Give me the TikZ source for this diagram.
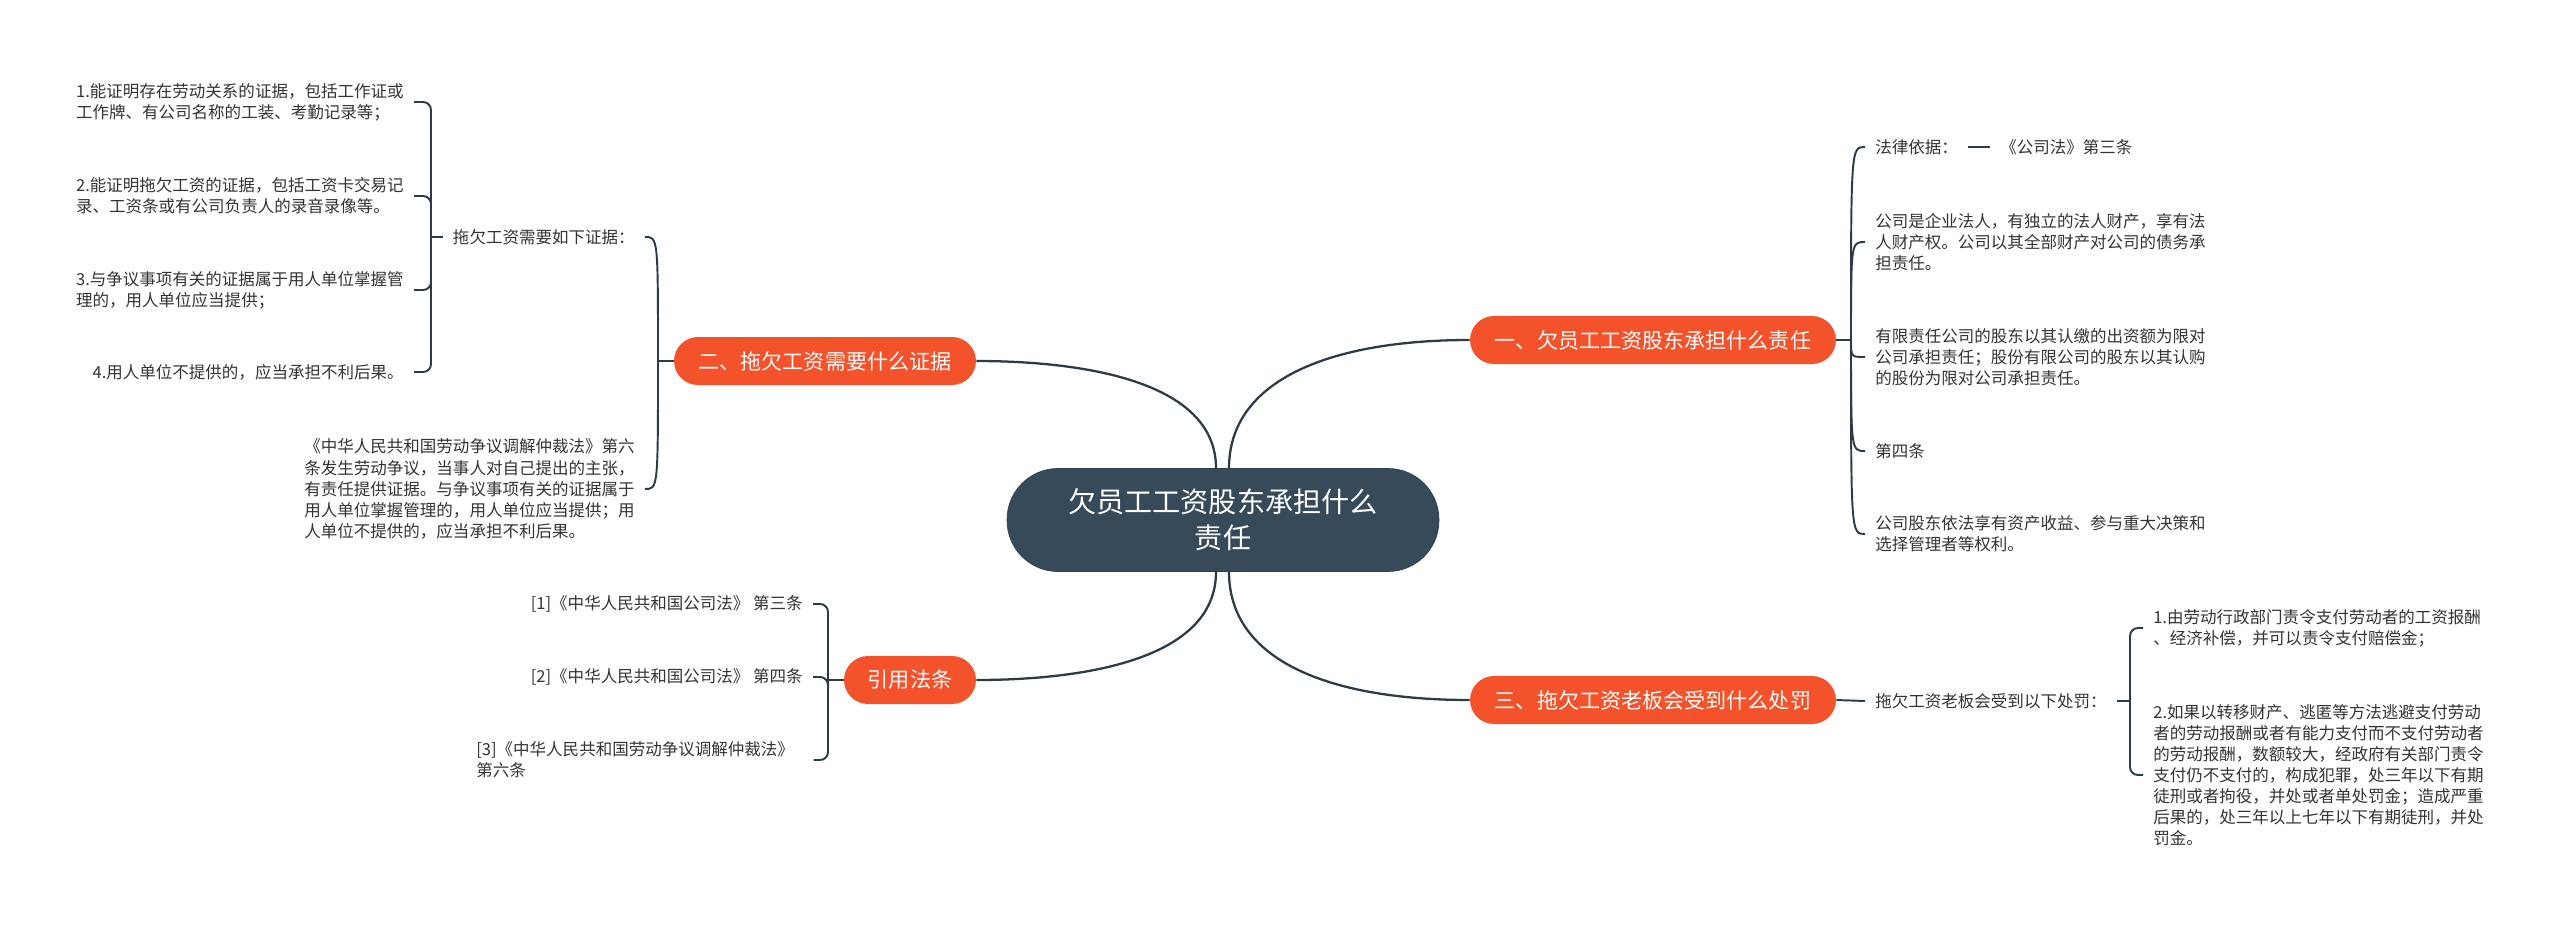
\documentclass[tikz,border=0pt]{standalone}
\usepackage{fontspec}
\setmainfont{Noto Sans CJK SC}
\usepackage{tikz}
\usetikzlibrary{positioning}
\definecolor{topicred}{HTML}{F4522B}
\definecolor{rootblue}{HTML}{374A5A}
\definecolor{linkgray}{HTML}{2C3B49}
\definecolor{leaftext}{HTML}{333333}
\tikzstyle{root}  = [rectangle, rounded corners=1.02cm, fill=rootblue, draw=rootblue!85!black, minimum width=8.64cm, minimum height=2.06cm, text=white, align=center, font=\fontsize{16}{20.5}\selectfont]
\tikzstyle{topic} = [rectangle, rounded corners=0.48cm, fill=topicred, minimum height=0.96cm, text=white, font=\fontsize{12}{14}\selectfont]
\tikzstyle{leaf}  = [inner xsep=0.2cm, inner ysep=0pt, align=left, text=leaftext, font=\fontsize{9.4}{12}\selectfont]
\tikzstyle{link}  = [line width=1.3pt, draw=linkgray]
\tikzstyle{sub}   = [line width=1.1pt, draw=linkgray]
\tikzstyle{brace} = [line width=1.1pt, draw=linkgray, rounded corners=0.16cm]

\begin{document}
\begin{tikzpicture}[x=0.02cm, y=-0.02cm]
        \useasboundingbox (0,0) rectangle (2560,927);

        % centre and main topics
        \node[root] (main) at (1223,520) {欠员工工资股东承担什么\\责任};
        \node[topic, minimum width=6.04cm] (t2) at (825,361) {二、拖欠工资需要什么证据};
        \node[topic, minimum width=7.32cm] (t1) at (1653,340) {一、欠员工工资股东承担什么责任};
        \node[topic, minimum width=7.32cm] (t3) at (1653,700) {三、拖欠工资老板会受到什么处罚};
        \node[topic, minimum width=2.64cm] (law) at (910,680) {引用法条};

        \draw[link] ([xshift=-0.14cm]main.north) .. controls +(0,-88) and +(104,0) .. (t2.east);
        \draw[link] ([xshift=0.12cm]main.north) .. controls +(0,-88) and +(-140,0) .. (t1.west);
        \draw[link] ([xshift=-0.14cm]main.south) .. controls +(0,89) and +(104,0) .. (law.east);
        \draw[link] ([xshift=0.12cm]main.south) .. controls +(0,89) and +(-140,0) .. (t3.west);

        % left: evidence
        \coordinate (j2) at (658,361);
        \node[leaf, anchor=east] (need) at (645,237) {拖欠工资需要如下证据：};
        \node[leaf, anchor=east] (art6) at (645,489) {《中华人民共和国劳动争议调解仲裁法》第六\\条发生劳动争议，当事人对自己提出的主张，\\有责任提供证据。与争议事项有关的证据属于\\用人单位掌握管理的，用人单位应当提供；用\\人单位不提供的，应当承担不利后果。};
        \draw[sub] (t2.west) -- (j2);
        \draw[sub] (j2) .. controls (j2 |- need.east) .. (need.east);
        \draw[sub] (j2) .. controls (j2 |- art6.east) .. (art6.east);

        \coordinate (b2) at (431,237);
        \node[leaf, anchor=east] (ev1) at (414,102) {1.能证明存在劳动关系的证据，包括工作证或\\工作牌、有公司名称的工装、考勤记录等；};
        \node[leaf, anchor=east] (ev2) at (414,196) {2.能证明拖欠工资的证据，包括工资卡交易记\\录、工资条或有公司负责人的录音录像等。};
        \node[leaf, anchor=east] (ev3) at (414,290) {3.与争议事项有关的证据属于用人单位掌握管\\理的，用人单位应当提供；};
        \node[leaf, anchor=east] (ev4) at (414,372) {4.用人单位不提供的，应当承担不利后果。};
        \draw[brace] (need.west) -- (b2);
        \foreach \n in {ev1,ev2,ev3,ev4}
            \draw[brace] (b2) -- (b2 |- \n.east) -- (\n.east);

        % left: cited articles
        \coordinate (bl) at (828,680);
        \node[leaf, anchor=east] (cite1) at (813,604) {[1]《中华人民共和国公司法》 第三条};
        \node[leaf, anchor=east] (cite2) at (813,677) {[2]《中华人民共和国公司法》 第四条};
        \node[leaf, anchor=west, text width=6.54cm] (cite3) at (466,760) {[3]《中华人民共和国劳动争议调解仲裁法》\\第六条};
        \draw[brace] (law.west) -- (bl);
        \foreach \n in {cite1,cite2,cite3}
            \draw[brace] (bl) -- (bl |- \n.east) -- (\n.east);

        % right: liability
        \coordinate (j1) at (1851,340);
        \node[leaf, anchor=west] (basis) at (1865,147) {法律依据：};
        \node[leaf, anchor=west] (art3) at (1990,147) {《公司法》第三条};
        \node[leaf, anchor=west] (corp) at (1865,242) {公司是企业法人，有独立的法人财产，享有法\\人财产权。公司以其全部财产对公司的债务承\\担责任。};
        \node[leaf, anchor=west] (ltd) at (1865,357) {有限责任公司的股东以其认缴的出资额为限对\\公司承担责任；股份有限公司的股东以其认购\\的股份为限对公司承担责任。};
        \node[leaf, anchor=west] (art4) at (1865,451) {第四条};
        \node[leaf, anchor=west] (rights) at (1865,534) {公司股东依法享有资产收益、参与重大决策和\\选择管理者等权利。};
        \draw[sub] (t1.east) -- (j1);
        \foreach \n in {basis,corp,ltd,art4,rights}
            \draw[sub] (j1) .. controls (j1 |- \n.west) .. (\n.west);
        \draw[sub] (basis.east) -- (art3.west);

        % right: penalties
        \node[leaf, anchor=west] (penalty) at (1865,701) {拖欠工资老板会受到以下处罚：};
        \draw[sub] (t3.east) -- (penalty.west);
        \coordinate (b3) at (2130,701);
        \node[leaf, anchor=west] (pen1) at (2143,628) {1.由劳动行政部门责令支付劳动者的工资报酬\\、经济补偿，并可以责令支付赔偿金；};
        \node[leaf, anchor=west] (pen2) at (2143,775) {2.如果以转移财产、逃匿等方法逃避支付劳动\\者的劳动报酬或者有能力支付而不支付劳动者\\的劳动报酬，数额较大，经政府有关部门责令\\支付仍不支付的，构成犯罪，处三年以下有期\\徒刑或者拘役，并处或者单处罚金；造成严重\\后果的，处三年以上七年以下有期徒刑，并处\\罚金。};
        \draw[brace] (penalty.east) -- (b3);
        \foreach \n in {pen1,pen2}
            \draw[brace] (b3) -- (b3 |- \n.west) -- (\n.west);
\end{tikzpicture}
\end{document}
